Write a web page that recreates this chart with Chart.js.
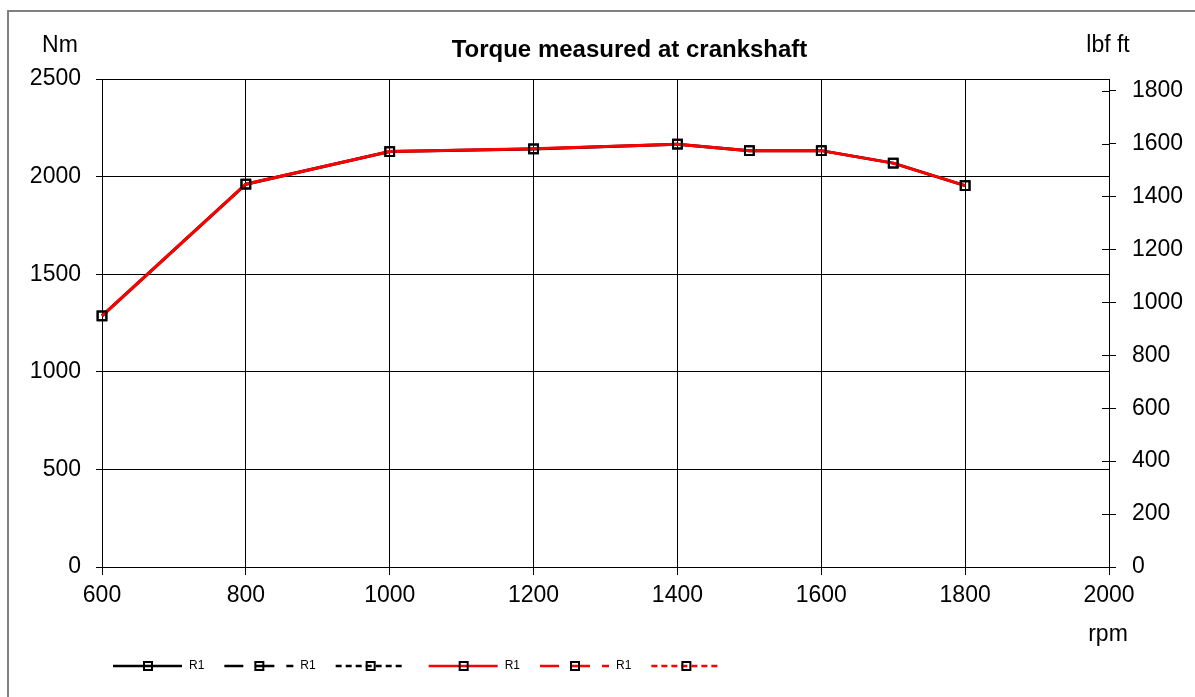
<!DOCTYPE html>
<html>
<head>
<meta charset="utf-8">
<script src="https://cdn.jsdelivr.net/npm/chart.js@4/dist/chart.umd.min.js"></script>
<style>
html,body{margin:0;padding:0;background:#fff;}
#wrap{width:1195px;height:697px;}
</style>
</head>
<body>
<div id="wrap"><canvas id="c" width="1195" height="697"></canvas></div>
<script>
// ---- data ----
const rpm = [600, 800, 1000, 1200, 1400, 1500, 1600, 1700, 1800];
const torqueNm = [1286, 1961, 2128, 2142, 2166, 2133, 2133, 2069, 1954];
const torqueLbfFt = [948.5, 1446.3, 1569.5, 1579.9, 1597.6, 1573.2, 1573.2, 1526.0, 1441.2];
const seriesLabels = ['R1', 'R1', '', 'R1', 'R1', ''];
const titleText = 'Torque measured at crankshaft';
const leftUnit = 'Nm';
const rightUnit = 'lbf ft';
const xUnit = 'rpm';
const xRange = [600, 2000];
const nmRange = [0, 2500];
const lbfRange = [0, 1843.9];

const FONT = "'Liberation Sans', Arial, Helvetica, sans-serif";

function pts(xs, ys) { return xs.map((x, i) => ({x: x, y: ys[i]})); }

const common = {
  fill: false, tension: 0, clip: false, pointStyle: 'rect', pointRadius: 6.2, pointHoverRadius: 6.2,
  pointBorderColor: '#000', pointBackgroundColor: 'rgba(0,0,0,0)', pointBorderWidth: 2,
  borderWidth: 3
};

const datasets = [
  Object.assign({}, common, {label: seriesLabels[0], data: pts(rpm, torqueNm), borderColor: '#000', borderDash: [], yAxisID: 'y', order: 1}),
  Object.assign({}, common, {label: seriesLabels[1], data: [], borderColor: '#000', borderDash: [19, 12], yAxisID: 'y', order: 2}),
  Object.assign({}, common, {label: seriesLabels[2], data: [], borderColor: '#000', borderDash: [6, 4], yAxisID: 'y', order: 3}),
  Object.assign({}, common, {label: seriesLabels[3], data: pts(rpm, torqueLbfFt), borderColor: '#ff0000', borderDash: [], yAxisID: 'y2', order: 0}),
  Object.assign({}, common, {label: seriesLabels[4], data: [], borderColor: '#ff0000', borderDash: [19, 12], yAxisID: 'y2', order: 4}),
  Object.assign({}, common, {label: seriesLabels[5], data: [], borderColor: '#ff0000', borderDash: [6, 4], yAxisID: 'y2', order: 5})
];

const overlay = {
  id: 'overlay',
  beforeDraw(chart) {
    const ctx = chart.ctx;
    ctx.save();
    ctx.fillStyle = '#fff';
    ctx.fillRect(0, 0, chart.width, chart.height);
    ctx.strokeStyle = '#808080';
    ctx.lineWidth = 2;
    ctx.strokeRect(8, 11, chart.width + 10, chart.height + 10);
    ctx.restore();
  },
  afterDraw(chart) {
    const ctx = chart.ctx;
    const area = chart.chartArea;
    ctx.save();
    // inward tick marks on right axis
    const y2 = chart.scales.y2;
    ctx.strokeStyle = '#000';
    ctx.lineWidth = 1;
    y2.ticks.forEach(t => {
      const y = Math.round(y2.getPixelForValue(t.value)) + 0.5;
      ctx.beginPath();
      ctx.moveTo(area.right - 7, y);
      ctx.lineTo(area.right, y);
      ctx.stroke();
    });
    // title and units
    ctx.fillStyle = '#000';
    ctx.textBaseline = 'alphabetic';
    ctx.textAlign = 'center';
    ctx.font = 'bold 24px ' + FONT;
    ctx.fillText(titleText, 629.5, 56.5);
    ctx.font = '23px ' + FONT;
    ctx.fillText(leftUnit, 60, 51.5);
    ctx.fillText(rightUnit, 1108, 51.5);
    ctx.fillText(xUnit, 1108, 641);
    // legend
    let x = 113;
    const ly = 666;
    chart.data.datasets.forEach(ds => {
      ctx.save();
      ctx.strokeStyle = ds.borderColor;
      ctx.lineWidth = 2.5;
      ctx.setLineDash(ds.borderDash || []);
      ctx.beginPath();
      ctx.moveTo(x, ly);
      ctx.lineTo(x + 69, ly);
      ctx.stroke();
      ctx.setLineDash([]);
      ctx.strokeStyle = '#000';
      ctx.lineWidth = 2;
      ctx.strokeRect(x + 35 - 4, ly - 4, 8, 8);
      ctx.fillStyle = '#000';
      ctx.font = '12px ' + FONT;
      ctx.textBaseline = 'middle';
      ctx.textAlign = 'left';
      let w = 0;
      if (ds.label) {
        ctx.fillText(ds.label, x + 76, ly);
        w = ctx.measureText(ds.label).width;
      }
      x += 69 + 7 + (ds.label ? w + 20 : 17);
      ctx.restore();
    });
    ctx.restore();
  }
};

const tickFont = {family: FONT, size: 23};
const plain = v => String(v);

new Chart(document.getElementById('c'), {
  type: 'line',
  data: {datasets: datasets},
  plugins: [overlay],
  options: {
    responsive: false,
    animation: false,
    devicePixelRatio: 1,
    layout: {padding: {top: 79, left: 0, right: 0, bottom: 0}},
    plugins: {legend: {display: false}, title: {display: false}, tooltip: {enabled: false}},
    elements: {line: {borderCapStyle: 'butt'}},
    scales: {
      x: {
        type: 'linear', position: 'bottom', min: xRange[0], max: xRange[1],
        ticks: {stepSize: 200, font: tickFont, color: '#000', padding: 7, maxRotation: 0, autoSkip: false, callback: plain},
        grid: {color: '#000', lineWidth: 1, tickLength: 8, tickColor: '#000'},
        border: {color: '#000', width: 1},
        afterFit: s => { s.height = 130; }
      },
      y: {
        type: 'linear', position: 'left', min: nmRange[0], max: nmRange[1],
        ticks: {stepSize: 500, font: tickFont, color: '#000', padding: 15, callback: plain},
        grid: {color: '#000', lineWidth: 1, tickLength: 6, tickColor: '#000'},
        border: {color: '#000', width: 1},
        afterFit: s => { s.width = 102; }
      },
      y2: {
        type: 'linear', position: 'right', min: lbfRange[0], max: lbfRange[1],
        ticks: {stepSize: 200, font: tickFont, color: '#000', padding: 16, includeBounds: false, callback: plain},
        grid: {drawOnChartArea: false, color: '#000', lineWidth: 1, tickLength: 7, tickColor: '#000'},
        border: {color: '#000', width: 1},
        afterBuildTicks: s => { s.ticks = s.ticks.filter(t => t.value % 200 === 0 && t.value <= 1800); },
        afterFit: s => { s.width = 86; }
      }
    }
  }
});
</script>
</body>
</html>
